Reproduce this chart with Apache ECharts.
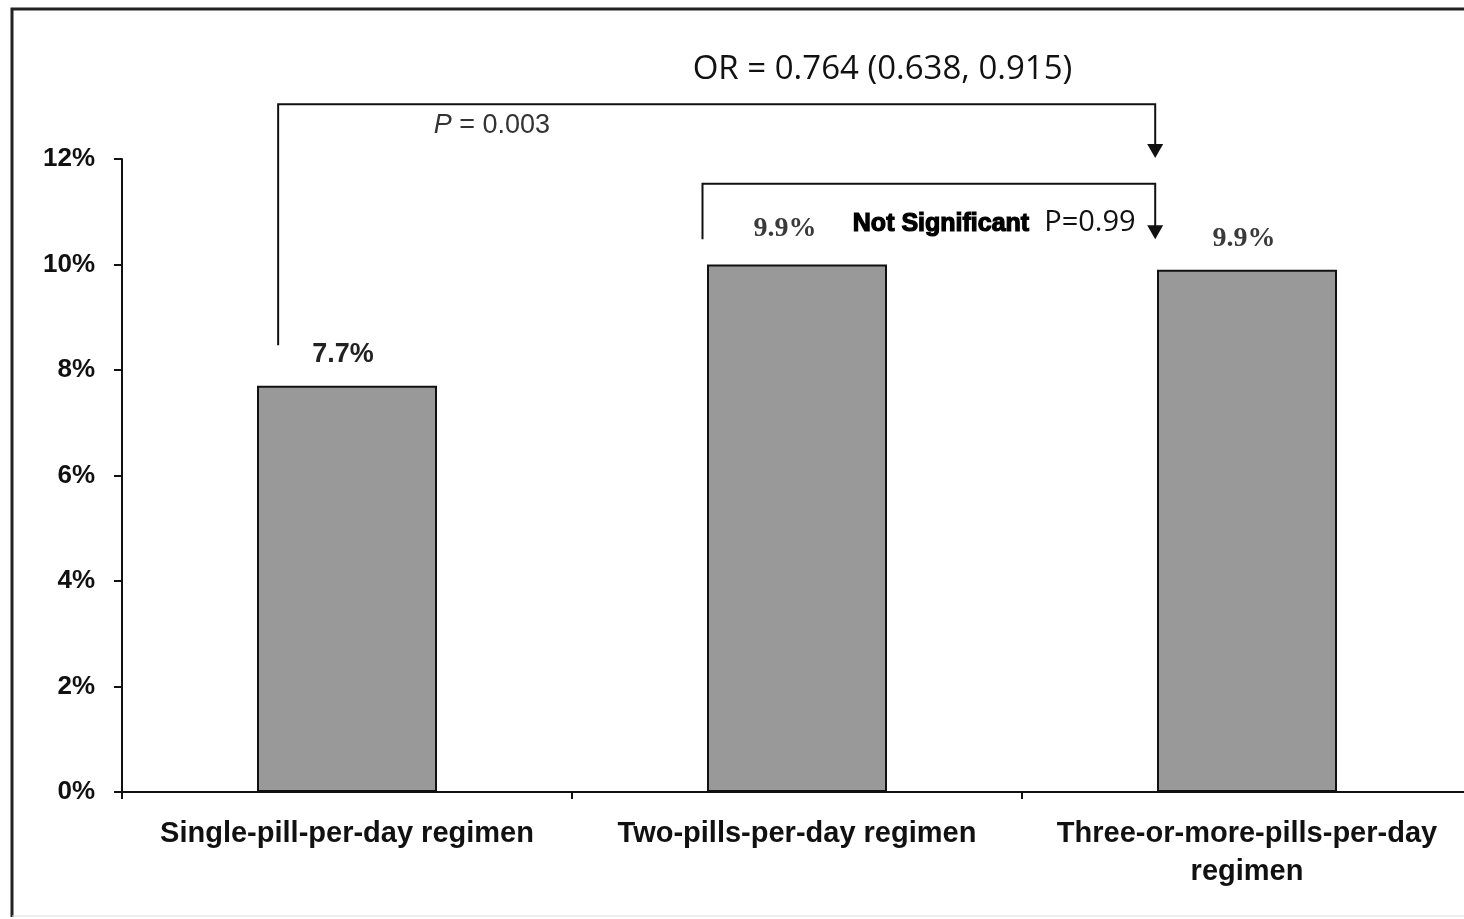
<!DOCTYPE html>
<html>
<head>
<meta charset="utf-8">
<script src="https://cdn.jsdelivr.net/npm/echarts@6/dist/echarts.min.js"></script>
<style>html,body{margin:0;padding:0;background:#fff;overflow:hidden;width:1464px;height:919px;}#c{width:1472px;height:919px;}</style>
</head>
<body>
<div id="c"></div>
<script>
var categories = ['Single-pill-per-day regimen', 'Two-pills-per-day regimen', 'Three-or-more-pills-per-day\nregimen'];
var values = [7.7, 10.0, 9.9];
var valueLabels = ['7.7%', '9.9%', '9.9%'];
var yTicks = [0, 2, 4, 6, 8, 10, 12];

// annotations in data space: x = category index (fractional), y = percent
var bracketOR = { x1: -0.153, y1: 8.47, yTop: 13.04, x2: 1.796, yTip: 12.02 };
var bracketNS = { x1: 0.79, y1: 10.48, yTop: 11.53, x2: 1.796, yTip: 10.48 };
var textOR = { x: 1.19, y: 13.69, text: 'OR = 0.764 (0.638, 0.915)' };
var textP1 = { x: 0.322, y: 12.64 };
var textNS = { x: 1.32, y: 10.77, text: 'Not Significant' };
var textP2 = { x: 1.651, y: 10.79, text: 'P=0.99' };

var chart = echarts.init(document.getElementById('c'));
var labelFonts = [
  { fontFamily: 'Liberation Sans', fontWeight: 'bold', fontSize: 27, color: '#222', distance: 18, offset: [-4, 0] },
  { fontFamily: 'Liberation Serif', fontWeight: 'bold', fontSize: 28, color: '#3a3a3a', distance: 22, offset: [-12, 0] },
  { fontFamily: 'Liberation Serif', fontWeight: 'bold', fontSize: 28, color: '#3a3a3a', distance: 17, offset: [-3, 0] }
];
var option = {
  backgroundColor: '#ffffff',
  animation: false,
  grid: { left: 122, right: 0, top: 159, bottom: 127 },
  xAxis: {
    type: 'category',
    data: categories,
    axisLine: { lineStyle: { color: '#111', width: 2 } },
    axisTick: { show: true, length: 7, lineStyle: { color: '#111', width: 2 } },
    axisLabel: { interval: 0, margin: 23, fontFamily: 'Liberation Sans', fontWeight: 'bold', fontSize: 29, lineHeight: 38, color: '#111' }
  },
  yAxis: {
    type: 'value', min: yTicks[0], max: yTicks[yTicks.length - 1], interval: 2,
    splitLine: { show: false },
    axisLine: { show: true, lineStyle: { color: '#111', width: 2 } },
    axisTick: { show: true, length: 8, lineStyle: { color: '#111', width: 2 } },
    axisLabel: { formatter: '{value}%', margin: 27, fontFamily: 'Liberation Sans', fontWeight: 'bold', fontSize: 26, color: '#111' }
  },
  series: [{
    type: 'bar',
    barWidth: '40%',
    data: values.map(function (v, i) {
      return {
        value: v,
        label: {
          show: true, position: 'top', distance: labelFonts[i].distance, offset: labelFonts[i].offset,
          formatter: valueLabels[i],
          fontFamily: labelFonts[i].fontFamily, fontWeight: labelFonts[i].fontWeight,
          fontSize: labelFonts[i].fontSize, color: labelFonts[i].color
        }
      };
    }),
    itemStyle: { color: '#999999', borderColor: '#111', borderWidth: 2 }
  }]
};
chart.setOption(option);

function px(x, y) {
  var a = chart.convertToPixel({ gridIndex: 0 }, [0, y]);
  var b = chart.convertToPixel({ gridIndex: 0 }, [1, 0]);
  var w = b[0] - a[0];
  return [a[0] + x * w, a[1]];
}
function bracket(br) {
  var p1 = px(br.x1, br.y1), pt1 = px(br.x1, br.yTop), pt2 = px(br.x2, br.yTop), tip = px(br.x2, br.yTip);
  return [
    { type: 'polyline', shape: { points: [p1, pt1, pt2, [tip[0], tip[1] - 12]] }, style: { stroke: '#111', lineWidth: 2, fill: null } },
    { type: 'polygon', shape: { points: [[tip[0] - 8, tip[1] - 14], [tip[0] + 8, tip[1] - 14], [tip[0], tip[1]]] }, style: { fill: '#111' } }
  ];
}
var g = [];
// outer frame
g.push({ type: 'polyline', shape: { points: [[12, 917], [12, 9], [1472, 9]] }, style: { stroke: '#222', lineWidth: 3, fill: null } });
g.push({ type: 'line', shape: { x1: 12, y1: 916, x2: 1472, y2: 916 }, style: { stroke: '#ddd', lineWidth: 1 } });
g = g.concat(bracket(bracketOR)).concat(bracket(bracketNS));
var pOR = px(textOR.x, textOR.y);
g.push({ type: 'text', x: pOR[0], y: pOR[1], style: { text: textOR.text, fontFamily: 'Open Sans', fontSize: 33, fill: '#111', align: 'center', verticalAlign: 'middle' } });
var pP1 = px(textP1.x, textP1.y);
g.push({ type: 'text', x: pP1[0], y: pP1[1], style: {
  text: '{i|P} = 0.003', align: 'center', verticalAlign: 'middle', fill: '#333',
  fontFamily: 'Liberation Sans', fontSize: 27,
  rich: { i: { fontStyle: 'italic', fontFamily: 'Liberation Sans', fontSize: 27, fill: '#333' } }
} });
var pNS = px(textNS.x, textNS.y);
g.push({ type: 'text', x: pNS[0], y: pNS[1], style: { text: textNS.text, fontFamily: 'Liberation Sans', fontWeight: 'bold', fontSize: 25, fill: '#000', stroke: '#000', lineWidth: 1.2, align: 'center', verticalAlign: 'middle' } });
var pP2 = px(textP2.x, textP2.y);
g.push({ type: 'text', x: pP2[0], y: pP2[1], style: { text: textP2.text, fontFamily: 'Open Sans', fontSize: 29, fill: '#111', align: 'center', verticalAlign: 'middle' } });
chart.setOption({ graphic: g });
</script>
</body>
</html>
